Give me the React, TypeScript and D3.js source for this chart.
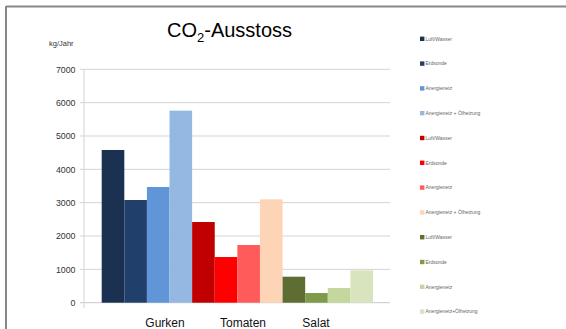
import React from "react";
import * as d3 from "d3";

const categories = ["Gurken", "Tomaten", "Salat"];
const seriesNames = [
  "Luft/Wasser", "Erdsonde", "Anergienetz", "Anergienetz + Ölheizung",
  "Luft/Wasser", "Erdsonde", "Anergienetz", "Anergienetz + Ölheizung",
  "Luft/Wasser", "Erdsonde", "Anergienetz", "Anergienetz+Ölheizung",
];
const seriesValues = [4580, 3080, 3470, 5760, 2420, 1370, 1730, 3100, 780, 290, 440, 970];
const seriesColors = [
  "#1b3151", "#203f6b", "#6095d8", "#95b8e3",
  "#c00000", "#ff0000", "#ff5b5b", "#fdd5b6",
  "#5e6e33", "#7f9a48", "#c4d79d", "#d8e4bd",
];
const yTicks = [0, 1000, 2000, 3000, 4000, 5000, 6000, 7000];
const categoryLabelX = [165, 243, 316];

export default function App() {
  const W = 566, H = 329;
  const y = d3.scaleLinear().domain([0, 7000]).range([302.7, 69.3]);
  const x = d3.scaleBand<number>().domain(d3.range(12)).range([101.7, 373]).padding(0);
  const font = "'Liberation Sans', Arial, sans-serif";
  return (
    <svg width={W} height={H} style={{ position: "absolute", left: 0, top: 0, background: "#fff" }}>
      <rect x={0} y={0} width={W} height={H} fill="#fff" />
      {/* frame */}
      <line x1={6} y1={6.5} x2={W} y2={6.5} stroke="#888" strokeWidth={2} />
      <line x1={6} y1={6} x2={6} y2={H} stroke="#888" strokeWidth={2} />
      {/* title */}
      <text x={167} y={37} fontFamily={font} fontSize={20} fill="#000">
        CO<tspan fontSize={13} dy={5}>2</tspan><tspan dy={-5}>-Ausstoss</tspan>
      </text>
      <text x={49} y={46} fontFamily={font} fontSize={7.5} fill="#333">kg/Jahr</text>
      {/* grid */}
      {yTicks.map((t) => (
        <g key={t}>
          <line x1={80} x2={390} y1={y(t)} y2={y(t)} stroke={t === 0 ? "#c8c8c8" : "#d4d4d4"} strokeWidth={1} />
          <text x={75.5} y={y(t) + 3.2} textAnchor="end" fontFamily={font} fontSize={8.8} fill="#333">{t}</text>
        </g>
      ))}
      <line x1={84} x2={84} y1={69} y2={308} stroke="#d4d4d4" strokeWidth={1} />
      {/* bars */}
      {seriesValues.map((v, i) => (
        <rect key={i} x={x(i)} y={y(v)} width={x.bandwidth()} height={y(0) - y(v)} fill={seriesColors[i]} />
      ))}
      {categories.map((c, i) => (
        <text key={c} x={categoryLabelX[i]} y={327} textAnchor="middle" fontFamily={font} fontSize={12} fill="#111">{c}</text>
      ))}
      {/* legend */}
      {seriesNames.map((n, i) => {
        const ly = 38.8 + i * 24.8;
        return (
          <g key={i}>
            <rect x={420} y={ly - 2.2} width={4.4} height={4.4} fill={seriesColors[i]} />
            <text x={425.5} y={ly + 1.8} fontFamily={font} fontSize={5} fill="#666">{n}</text>
          </g>
        );
      })}
    </svg>
  );
}
